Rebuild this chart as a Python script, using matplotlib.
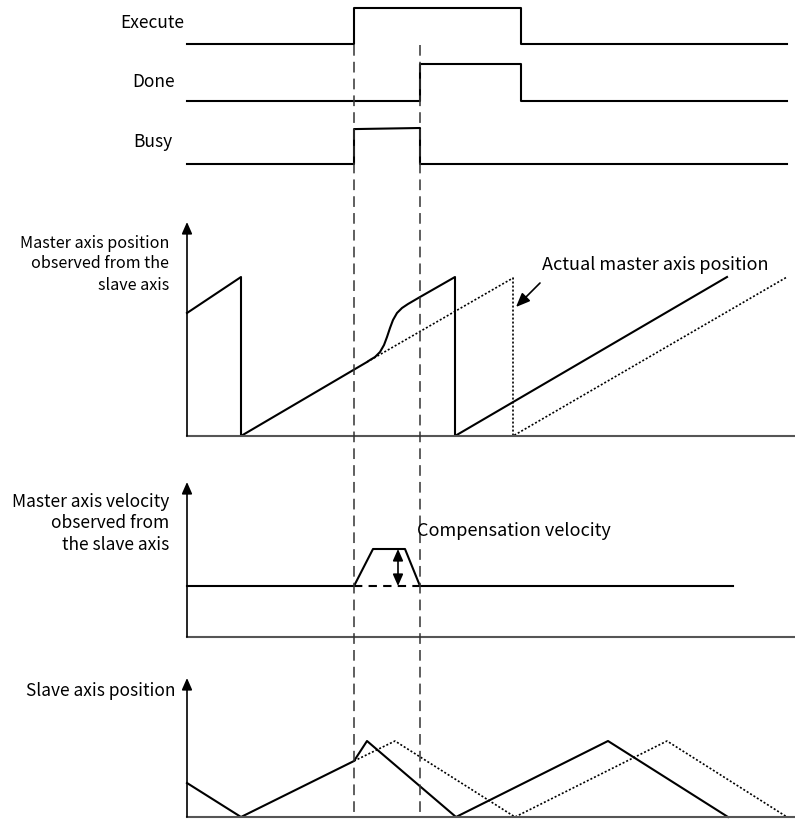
import matplotlib.pyplot as plt
import matplotlib.transforms as mtransforms
from matplotlib.lines import Line2D

plt.rcParams['font.family'] = ['Noto Sans CJK SC', 'DejaVu Sans']

W, H = 795, 821
X0, X1 = 187, 795          # pixel span of the time axis

# ---- data (time in arbitrary units, 0 = left axis) ----
t_execute = [0, 167, 167, 334, 334, 600]
v_execute = [0, 0, 1, 1, 0, 0]
t_done = [0, 233, 233, 334, 334, 600]
v_done = [0, 0, 1, 1, 0, 0]
t_busy = [0, 167, 167, 233, 233, 600]
v_busy = [0, 0, 0.97, 1.0, 0, 0]

t_edges = [167, 233]   # execute rising edge, busy falling edge

# master axis position seen from slave (solid) and actual (dotted)
t_master = [0, 54, 54, 180, 183, 188, 193, 197, 200, 203, 206, 210,
            215, 221, 227, 233, 268, 268, 540]
p_master = [123, 159, 0, 74, 76, 79, 84, 91, 99, 108, 116, 123,
            128, 132, 135.5, 139, 159, 0, 159]
t_actual = [180, 326, 326, 600]
p_actual = [74, 158, 0, 159]

# master velocity seen from slave
t_vel = [0, 167, 186, 218, 233, 546]
v_vel = [51, 51, 88, 88, 51, 51]
v_base = 51
v_peak = 88
t_comp = 211

# slave axis position
t_slave = [0, 54, 167, 180, 269, 421, 541]
s_slave = [34, 0, 56, 76, 0, 76, 0]
t_slave_old = [167, 208, 328, 480, 600]
s_slave_old = [56, 76, 0, 76, 0]

fig = plt.figure(figsize=(W / 100, H / 100), dpi=100)


def panel(top, bottom, ylim):
    ax = fig.add_axes([X0 / W, 1 - bottom / H, (X1 - X0) / W, (bottom - top) / H])
    ax.set_xlim(0, X1 - X0)
    ax.set_ylim(*ylim)
    ax.set_xticks([])
    ax.set_yticks([])
    ax.patch.set_alpha(0)
    for s in ['top', 'right', 'left', 'bottom']:
        ax.spines[s].set_visible(False)
    return ax


def axis_lines(ax):
    ax.spines['bottom'].set_visible(True)
    ax.spines['bottom'].set_color('#555555')
    ax.spines['bottom'].set_linewidth(1.5)
    ax.annotate('', xy=(0, 1), xytext=(0, 0), xycoords='axes fraction',
                arrowprops=dict(arrowstyle='-|>,head_length=0.5,head_width=0.22',
                                color='black', lw=1.2, shrinkA=0, shrinkB=0,
                                mutation_scale=14))


def fig_text(x, y, s, size=12.5, **kw):
    fig.text(x / W, 1 - y / H, s, fontsize=size, va='center', **kw)


lw = 1.5
# ---- signals ----
for (top, bot), t, v in [((8, 44), t_execute, v_execute),
                         ((64, 101), t_done, v_done),
                         ((128, 164), t_busy, v_busy)]:
    a = panel(top, bot, (0, 1))
    a.plot(t, v, c='black', lw=lw, clip_on=False)

fig_text(152, 23, 'Execute', ha='center')
fig_text(154, 82, 'Done', ha='center')
fig_text(153, 142, 'Busy', ha='center')

# ---- master axis position ----
ax1 = panel(222, 436, (0, 214))
axis_lines(ax1)
ax1.plot(t_master, p_master, c='black', lw=lw, clip_on=False,
         solid_joinstyle='round')
ax1.plot(t_actual, p_actual, c='black', lw=1.2, ls=(0, (1.2, 1.2)), clip_on=False)
ax1.annotate('', xy=(329, 129), xytext=(353, 153),
             arrowprops=dict(arrowstyle='-|>,head_length=0.6,head_width=0.25',
                             color='black', lw=1.2, shrinkA=0, shrinkB=0,
                             mutation_scale=14))
fig_text(542, 265, 'Actual master axis position', size=13, ha='left')
for y, s in [(243, 'Master axis position'), (264, 'observed from the'), (285, 'slave axis')]:
    fig_text(169, y, s, size=11.6, ha='right')

# ---- master axis velocity ----
ax2 = panel(482, 637, (0, 155))
axis_lines(ax2)
ax2.plot(t_vel, v_vel, c='black', lw=lw, clip_on=False)
ax2.plot(t_edges, [v_base, v_base], c='black', lw=lw, ls=(0, (4, 3)))
ax2.annotate('', xy=(t_comp, v_peak), xytext=(t_comp, v_base),
             arrowprops=dict(arrowstyle='<|-|>,head_length=0.5,head_width=0.22',
                             color='black', lw=1.2, shrinkA=0, shrinkB=0,
                             mutation_scale=14))
fig_text(417, 531, 'Compensation velocity', size=13, ha='left')
for y, s in [(502, 'Master axis velocity'), (523, 'observed from'), (545, 'the slave axis')]:
    fig_text(169, y, s, ha='right')

# ---- slave axis position ----
ax3 = panel(678, 817, (0, 139))
axis_lines(ax3)
ax3.plot(t_slave, s_slave, c='black', lw=lw, clip_on=False)
ax3.plot(t_slave_old, s_slave_old, c='black', lw=1.2, ls=(0, (1.2, 1.2)), clip_on=False)
fig_text(176, 691, 'Slave axis position', ha='right')

# ---- dashed guide lines through all panels ----
tr = mtransforms.blended_transform_factory(ax3.transData, fig.transFigure)
for t in t_edges:
    fig.add_artist(Line2D([t, t], [1 - 45 / H, 1 - 817 / H], transform=tr,
                          color='#333333', lw=1.1, ls=(0, (7, 4))))

fig.savefig('out.png', dpi=100)
